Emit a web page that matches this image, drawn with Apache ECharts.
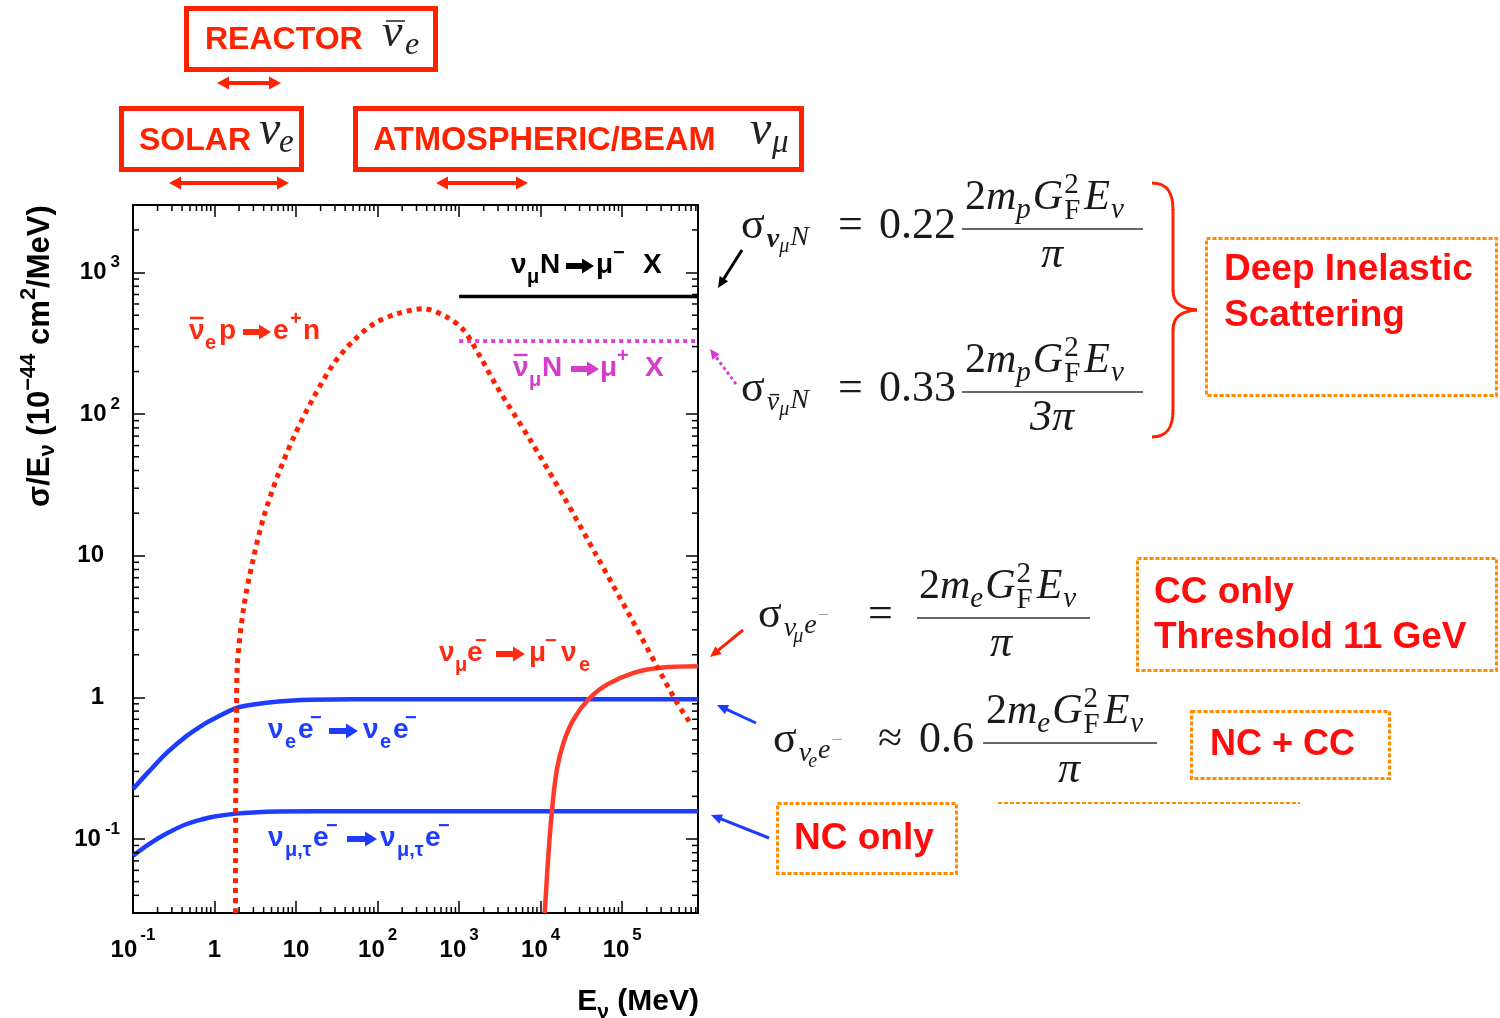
<!DOCTYPE html>
<html><head><meta charset="utf-8">
<script src="https://cdn.jsdelivr.net/npm/echarts@6/dist/echarts.min.js"></script>
<style>html,body{margin:0;padding:0;background:#fff}#c{width:1500px;height:1018px}</style>
</head><body><div id="c"></div>
<script>
// ---------------- data ----------------
const E_MIN = 0.1, E_MAX = 850000;      // MeV
const S_MIN = 0.03, S_MAX = 3000;       // 1e-44 cm^2/MeV
const xTickDecades = [-1, 0, 1, 2, 3, 4, 5];
const yTickDecades = [-1, 0, 1, 2, 3];
const minorMult = [2, 3, 4, 5, 6, 7, 8, 9];

// nu_e e- -> nu_e e-
const nueE = [[0.1,0.225],[0.157,0.30],[0.265,0.41],[0.448,0.53],[0.754,0.65],[1.0,0.71],[1.83,0.84],[3.0,0.89],[6.1,0.935],[15,0.96],[49,0.97],[300,0.97],[850000,0.97]];
// nu_mu,tau e- -> nu_mu,tau e-
const numutauE = [[0.1,0.076],[0.157,0.092],[0.265,0.110],[0.448,0.127],[0.754,0.139],[1.0,0.144],[1.83,0.151],[3.0,0.154],[6.1,0.156],[49,0.157],[300,0.157],[850000,0.157]];
// anti-nu_e p -> e+ n
const antinueP = [[1.806,0.03],[1.82,0.2],[1.86,0.8],[1.90,1.66],[2.29,4.4],[3.03,9.9],[4.02,18.9],[5.87,36],[9.37,69],[16.5,132],[29,228],[51,332],[90,435],[173,512],[367,555],[711,484],[1140,391],[1820,253],[2910,156],[7460,65.6],[19100,26.2],[49000,9.9],[125000,3.74],[266000,1.66],[468000,0.92],[681000,0.66]];
// nu_mu e- -> mu- nu_e
const numuE = [[11200,0.03],[12500,0.081],[13700,0.154],[15800,0.31],[19100,0.48],[25300,0.70],[38600,0.97],[64900,1.23],[138000,1.49],[292000,1.62],[850000,1.66]];
// DIS
const numuN = [[1000,678],[850000,678]];
const antinumuN = [[1000,328],[850000,328]];

// minor tick positions
const xMinor = [];
for (const k of xTickDecades) for (const m of minorMult) { const v = m * Math.pow(10, k); if (v < E_MAX) xMinor.push([v, S_MIN]); }
const yMinor = [];
for (const k of [-2, -1, 0, 1, 2, 3]) for (const m of minorMult) { const v = m * Math.pow(10, k); if (v > S_MIN && v < S_MAX) yMinor.push([E_MIN, v]); }

// ---------------- styles ----------------
const SANS = '"Liberation Sans", Arial, sans-serif';
const SERIF = '"Liberation Serif", "Times New Roman", serif';
const BLUE = '#1e3cff', RED = '#ff2a10', MAG = '#d63ccc', ORANGE = '#ff8c00', BOXRED = '#ff2200', TRED = '#ff0d0d', FC = '#1a1a1a';

// ---------------- graphic helpers ----------------
const G = [];
const mctx = document.createElement('canvas').getContext('2d');
function mkfont(o) { return (o.style || 'normal') + ' ' + (o.weight || 'normal') + ' ' + o.size + 'px ' + (o.fam || SANS); }
function txt(x, base, s, o) {
  const f = mkfont(o);
  G.push({type:'text', x: x, y: base - 0.34 * o.size, z: 30,
    style:{text: s, font: f, fill: o.color || '#000', align: o.align || 'left', verticalAlign: 'middle'}});
  mctx.font = f; return mctx.measureText(s).width;
}
function flow(x, base, toks, defs) {
  let cx = x, stackW = 0;
  toks.forEach(tk => {
    const o = Object.assign({}, defs, tk);
    const w = txt(cx, base + (o.dy || 0), o.t, o);
    if (o.bar) G.push({type:'line', z:30, shape:{x1:cx + 3, y1:base + (o.dy||0) - o.size*0.62, x2:cx + w, y2:base + (o.dy||0) - o.size*0.62}, style:{stroke:o.color||'#000', lineWidth:1.5}});
    if (o.stack) { stackW = w; }
    else { cx += Math.max(w, stackW) + (o.gap || 0); stackW = 0; }
  });
  return cx - x;
}
function flowRot(X0, Y0, toks, defs) {
  let s = 0;
  toks.forEach(tk => {
    const o = Object.assign({}, defs, tk);
    const f = mkfont(o);
    mctx.font = f; const w = mctx.measureText(o.t).width;
    G.push({type:'text', x: X0 + (o.dy || 0) - 0.34 * o.size, y: Y0 - s, rotation: Math.PI / 2, z: 30,
      style:{text: o.t, font: f, fill: o.color || '#000', align: 'left', verticalAlign: 'middle'}});
    s += w + (o.gap || 0);
  });
  return s;
}
function arrow(x1, y1, x2, y2, color, w, hl, hw, dash) {
  const dx = x2 - x1, dy = y2 - y1, L = Math.hypot(dx, dy), ux = dx / L, uy = dy / L, px = -uy, py = ux;
  const bx = x2 - ux * hl, by = y2 - uy * hl;
  G.push({type:'line', z:30, shape:{x1:x1, y1:y1, x2:bx + ux, y2:by + uy}, style:{stroke:color, lineWidth:w, lineDash: dash || null}});
  G.push({type:'polygon', z:30, shape:{points:[[x2, y2], [bx + px * hw / 2, by + py * hw / 2], [bx - px * hw / 2, by - py * hw / 2]]}, style:{fill:color}});
}
function dbl(x1, x2, y, color) {
  const hl = 12, hw = 13;
  G.push({type:'line', z:30, shape:{x1:x1 + hl - 1, y1:y, x2:x2 - hl + 1, y2:y}, style:{stroke:color, lineWidth:4}});
  G.push({type:'polygon', z:30, shape:{points:[[x1, y], [x1 + hl, y - hw / 2], [x1 + hl, y + hw / 2]]}, style:{fill:color}});
  G.push({type:'polygon', z:30, shape:{points:[[x2, y], [x2 - hl, y - hw / 2], [x2 - hl, y + hw / 2]]}, style:{fill:color}});
}
function rect(x, y, w, h, color, lw, dash) {
  G.push({type:'rect', z:25, shape:{x:x, y:y, width:w, height:h}, style:{fill:'none', stroke:color, lineWidth:lw, lineDash: dash || null}});
}
function hline(x1, x2, y, color, lw, dash) {
  G.push({type:'line', z:25, shape:{x1:x1, y1:y, x2:x2, y2:y}, style:{stroke:color, lineWidth:lw, lineDash: dash || null}});
}
// labels inside the plot
function plab(color, base, toks) {
  toks.forEach(tk => {
    if (tk.k === 'a') { arrow(tk.x, base - 9, tk.x2, base - 9, color, 6, 12, 15); return; }
    const sub = tk.k === 's', sup = tk.k === 'u';
    const size = (sub || sup) ? 20 : 28;
    const dy = sub ? 9 : sup ? -15 : 0;
    const w = txt(tk.x, base + dy, tk.t, {fam:SANS, weight:'bold', size:size, color:color});
    if (tk.bar) G.push({type:'line', z:30, shape:{x1:tk.x + 1, y1:base - 23, x2:tk.x + w - 1, y2:base - 23}, style:{stroke:color, lineWidth:2.5}});
  });
}
// numerator 2 m_x G_F^2 E_nu
function numer(L, base, sub) {
  const D = {fam:SERIF, color:FC};
  flow(L, base, [
    {t:'2', size:42, gap:0},
    {t:'m', size:42, style:'italic', gap:0},
    {t:sub, size:29, style:'italic', dy:8, gap:2},
    {t:'G', size:42, style:'italic', gap:1},
    {t:'2', size:29, dy:-17, stack:true},
    {t:'F', size:29, dy:9, gap:4},
    {t:'E', size:42, style:'italic', gap:1},
    {t:'ν', size:29, style:'italic', dy:8}
  ], D);
}

// ---------- top boxes ----------
rect(186.5, 8.5, 249, 61, BOXRED, 5);
txt(205, 51, 'REACTOR', {size:32, weight:'bold', color:BOXRED, fam:SANS});
txt(382, 50, 'ν', {size:46, style:'italic', fam:SERIF, color:'#222'});
G.push({type:'line', z:30, shape:{x1:386, y1:21, x2:405, y2:21}, style:{stroke:'#555', lineWidth:2}});
txt(405, 56, 'e', {size:32, style:'italic', fam:SERIF, color:'#222'});
dbl(217, 281, 83, BOXRED);

rect(121.5, 108.5, 180, 61, BOXRED, 5);
txt(139, 152, 'SOLAR', {size:32, weight:'bold', color:BOXRED, fam:SANS});
txt(259, 148, 'ν', {size:48, style:'italic', fam:SERIF, color:'#222'});
txt(279, 155, 'e', {size:33, style:'italic', fam:SERIF, color:'#222'});
dbl(169, 289, 183, BOXRED);

rect(355.5, 108.5, 446, 61, BOXRED, 5);
txt(373, 152, 'ATMOSPHERIC/BEAM', {size:32.5, weight:'bold', color:BOXRED, fam:SANS});
txt(750, 148, 'ν', {size:48, style:'italic', fam:SERIF, color:'#222'});
txt(772, 155, 'μ', {size:33, style:'italic', fam:SERIF, color:'#222'});
dbl(436, 528, 183, BOXRED);

// ---------- labels in the plot ----------
plab(RED, 341, [{x:189, t:'ν', bar:true}, {x:205, t:'e', k:'s'}, {x:219, t:'p'}, {k:'a', x:243, x2:271}, {x:273, t:'e'}, {x:290, t:'+', k:'u'}, {x:303, t:'n'}]);
plab('#000', 275, [{x:511, t:'ν'}, {x:527, t:'μ', k:'s'}, {x:540, t:'N'}, {k:'a', x:566, x2:594}, {x:596, t:'μ'}, {x:613, t:'−', k:'u'}, {x:643, t:'X'}]);
plab(MAG, 378, [{x:513, t:'ν', bar:true}, {x:529, t:'μ', k:'s'}, {x:542, t:'N'}, {k:'a', x:571, x2:599}, {x:600, t:'μ'}, {x:617, t:'+', k:'u'}, {x:645, t:'X'}]);
plab(RED, 663, [{x:439, t:'ν'}, {x:455, t:'μ', k:'s'}, {x:467, t:'e'}, {x:475, t:'−', k:'u'}, {k:'a', x:496, x2:525}, {x:529, t:'μ'}, {x:545, t:'−', k:'u'}, {x:561, t:'ν'}, {x:579, t:'e', k:'s'}]);
plab(BLUE, 740, [{x:268, t:'ν'}, {x:285, t:'e', k:'s'}, {x:298, t:'e'}, {x:310, t:'−', k:'u'}, {k:'a', x:329, x2:358}, {x:363, t:'ν'}, {x:380, t:'e', k:'s'}, {x:393, t:'e'}, {x:405, t:'−', k:'u'}]);
plab(BLUE, 848, [{x:268, t:'ν'}, {x:285, t:'μ,τ', k:'s'}, {x:313, t:'e'}, {x:326, t:'−', k:'u'}, {k:'a', x:347, x2:377}, {x:380, t:'ν'}, {x:397, t:'μ,τ', k:'s'}, {x:425, t:'e'}, {x:438, t:'−', k:'u'}]);

// ---------- formulas ----------
const FD = {fam:SERIF, color:FC};
// sigma_{nu_mu N}
flow(741, 241, [{t:'σ', size:44, gap:2}, {t:'ν', size:28, weight:'bold', style:'italic', dy:8, gap:0}, {t:'μ', size:20, style:'italic', dy:13, gap:1}, {t:'N', size:28, style:'italic', dy:6}], FD);
txt(838, 241, '=', Object.assign({size:44}, FD));
txt(879, 241, '0.22', Object.assign({size:44}, FD));
hline(962, 1143, 229, '#333', 1.6);
numer(965, 212, 'p');
txt(1052, 270, 'π', Object.assign({size:44, style:'italic', align:'center'}, FD));
arrow(742, 250, 718, 288, '#000', 3, 11, 10);

// sigma_{antinu_mu N}
flow(741, 404, [{t:'σ', size:44, gap:2}, {t:'ν', size:28, style:'italic', dy:8, gap:0, bar:true}, {t:'μ', size:20, style:'italic', dy:13, gap:1}, {t:'N', size:28, style:'italic', dy:6}], FD);
txt(838, 404, '=', Object.assign({size:44}, FD));
txt(879, 404, '0.33', Object.assign({size:44}, FD));
hline(962, 1143, 392, '#333', 1.6);
numer(965, 375, 'p');
txt(1052, 433, '3π', Object.assign({size:44, style:'italic', align:'center'}, FD));
arrow(736, 384, 710, 349, MAG, 3, 10, 9, [3, 3]);

// brace
const BR = {stroke:BOXRED, lineWidth:3, fill:'none'};
G.push({type:'bezierCurve', z:25, shape:{x1:1152, y1:183, cpx1:1167, cpy1:183, cpx2:1173, cpy2:192, x2:1173, y2:210}, style:BR});
G.push({type:'line', z:25, shape:{x1:1173, y1:209, x2:1173, y2:291}, style:BR});
G.push({type:'bezierCurve', z:25, shape:{x1:1173, y1:290, cpx1:1173, cpy1:303, cpx2:1181, cpy2:309, x2:1197, y2:310}, style:BR});
G.push({type:'bezierCurve', z:25, shape:{x1:1197, y1:310, cpx1:1181, cpy1:311, cpx2:1173, cpy2:317, x2:1173, y2:330}, style:BR});
G.push({type:'line', z:25, shape:{x1:1173, y1:329, x2:1173, y2:411}, style:BR});
G.push({type:'bezierCurve', z:25, shape:{x1:1173, y1:410, cpx1:1173, cpy1:428, cpx2:1167, cpy2:437, x2:1152, y2:437}, style:BR});

// DIS box
rect(1206.5, 238.5, 290, 157, ORANGE, 3, [4, 2]);
txt(1224, 282, 'Deep Inelastic', {size:37, weight:'bold', color:TRED, fam:SANS});
txt(1224, 328, 'Scattering', {size:37, weight:'bold', color:TRED, fam:SANS});

// sigma_{nu_mu e-}
flow(758, 630, [{t:'σ', size:44, gap:2}, {t:'ν', size:28, style:'italic', dy:8, gap:-3}, {t:'μ', size:20, style:'italic', dy:14, gap:1}, {t:'e', size:28, style:'italic', dy:5, gap:1}, {t:'−', size:20, dy:-7, color:'#999'}], FD);
txt(868, 630, '=', Object.assign({size:44}, FD));
hline(917, 1090, 618, '#333', 1.6);
numer(919, 601, 'e');
txt(1001, 659, 'π', Object.assign({size:44, style:'italic', align:'center'}, FD));
arrow(743, 630, 710, 657, BOXRED, 3, 11, 10);

rect(1137.5, 558.5, 359, 112, ORANGE, 3, [4, 2]);
txt(1154, 605, 'CC only', {size:37, weight:'bold', color:TRED, fam:SANS});
txt(1154, 650, 'Threshold 11 GeV', {size:37, weight:'bold', color:TRED, fam:SANS});

// sigma_{nu_e e-}
flow(773, 755, [{t:'σ', size:44, gap:2}, {t:'ν', size:28, style:'italic', dy:8, gap:-3}, {t:'e', size:20, style:'italic', dy:14, gap:1}, {t:'e', size:28, style:'italic', dy:5, gap:1}, {t:'−', size:20, dy:-7, color:'#999'}], FD);
txt(878, 755, '≈', Object.assign({size:44}, FD));
txt(919, 755, '0.6', Object.assign({size:44}, FD));
hline(983, 1157, 743, '#333', 1.6);
numer(986, 726, 'e');
txt(1069, 785, 'π', Object.assign({size:44, style:'italic', align:'center'}, FD));
arrow(756, 723, 717, 705, BLUE, 3, 11, 10);

rect(1191.5, 711.5, 198, 67, ORANGE, 3, [4, 2]);
txt(1210, 757, 'NC + CC', {size:36, weight:'bold', color:TRED, fam:SANS});
hline(998, 1300, 803, ORANGE, 2, [4, 2]);

rect(777.5, 803.5, 179, 70, ORANGE, 3, [4, 2]);
txt(794, 851, 'NC only', {size:37, weight:'bold', color:TRED, fam:SANS});
arrow(769, 838, 711, 815, BLUE, 3, 11, 10);

// ---------- axis titles ----------
flowRot(51, 507, [
  {t:'σ/E'}, {t:'ν', size:22, dy:4}, {t:' (10'}, {t:'−44', size:22, dy:-15}, {t:' cm'}, {t:'2', size:22, dy:-15}, {t:'/MeV)'}
], {size:31, weight:'bold', fam:SANS, color:'#000'});
(function () {
  const toks = [{t:'E'}, {t:'ν', size:21, dy:7}, {t:' (MeV)'}];
  const D = {size:30, weight:'bold', fam:SANS};
  let w = 0; toks.forEach(tk => { const o = Object.assign({}, D, tk); mctx.font = mkfont(o); w += mctx.measureText(o.t).width; });
  flow(699 - w, 1012, toks, D);
})();

// ---------------- axes ----------------
function decadeOf(v) { const l = Math.log10(v); const k = Math.round(l); return Math.abs(l - k) < 1e-6 ? k : null; }
function xFmt(v) {
  const k = decadeOf(v);
  if (k === null || xTickDecades.indexOf(k) < 0) return '';
  if (k === 0) return '{b|1}';
  if (k === 1) return '{b|10}';
  return '{b|10}{s|' + (k < 0 ? '-' : '') + Math.abs(k) + '}';
}
function yFmt(v) {
  const k = decadeOf(v);
  if (k === null || yTickDecades.indexOf(k) < 0) return '';
  if (k === 0) return '{p|1}';
  if (k === 1) return '{p|10}';
  return '{b|10}{s|' + (k < 0 ? '-' : '') + Math.abs(k) + '}';
}
const LBL = {fontFamily:SANS, fontWeight:'bold', color:'#000'};
const axisCommon = {
  type:'log', logBase:10,
  axisLine:{show:true, onZero:false, lineStyle:{color:'#000', width:2}},
  axisTick:{show:true, inside:true, length:12, lineStyle:{color:'#000', width:1.5}},
  minorTick:{show:false}, splitLine:{show:false}, minorSplitLine:{show:false}
};
const option = {
  animation:false,
  backgroundColor:'#ffffff',
  grid:{left:133, top:205, width:565, height:708, outerBoundsMode:'none'},
  xAxis:[
    Object.assign({}, axisCommon, {min:E_MIN, max:E_MAX, position:'bottom',
      axisLabel:{show:true, interval:0, margin:14, formatter:xFmt, hideOverlap:false,
        rich:{b:Object.assign({fontSize:24, lineHeight:46}, LBL), s:Object.assign({fontSize:17, lineHeight:16, verticalAlign:'top', padding:[0,0,0,3]}, LBL)}}}),
    Object.assign({}, axisCommon, {min:E_MIN, max:E_MAX, position:'top', axisLabel:{show:false}})
  ],
  yAxis:[
    Object.assign({}, axisCommon, {min:S_MIN, max:S_MAX, position:'left',
      axisLabel:{show:true, interval:0, margin:13, formatter:yFmt, hideOverlap:false,
        rich:{b:Object.assign({fontSize:24, lineHeight:37}, LBL), p:Object.assign({fontSize:24, lineHeight:37, padding:[0,16,0,0]}, LBL),
              s:Object.assign({fontSize:17, lineHeight:16, verticalAlign:'top', padding:[0,0,0,4]}, LBL)}}}),
    Object.assign({}, axisCommon, {min:S_MIN, max:S_MAX, position:'right', axisLabel:{show:false}})
  ],
  series:[
    {type:'line', data:nueE, smooth:0.35, showSymbol:false, lineStyle:{color:BLUE, width:4.5}, z:3},
    {type:'line', data:numutauE, smooth:0.35, showSymbol:false, lineStyle:{color:BLUE, width:4.5}, z:3},
    {type:'line', data:numuE, smooth:0.4, showSymbol:false, lineStyle:{color:'#ff3a2a', width:4.5}, z:4},
    {type:'line', data:antinueP, smooth:0.3, showSymbol:false, lineStyle:{color:'#ff2200', width:5, type:[5,5]}, z:5},
    {type:'line', data:numuN, showSymbol:false, lineStyle:{color:'#000', width:3.5}, z:4},
    {type:'line', data:antinumuN, showSymbol:false, lineStyle:{color:'#e040d8', width:4, type:[4,4]}, z:4},
    {type:'custom', data:xMinor, silent:true, z:6, renderItem:function (params, api) {
      const v = api.value(0), pb = api.coord([v, S_MIN]), pt = api.coord([v, S_MAX]);
      const st = {stroke:'#000', lineWidth:1.5};
      return {type:'group', children:[
        {type:'line', shape:{x1:pb[0], y1:pb[1], x2:pb[0], y2:pb[1] - 6}, style:st},
        {type:'line', shape:{x1:pt[0], y1:pt[1], x2:pt[0], y2:pt[1] + 6}, style:st}]};
    }},
    {type:'custom', data:yMinor, silent:true, z:6, renderItem:function (params, api) {
      const v = api.value(1), pl = api.coord([E_MIN, v]), pr = api.coord([E_MAX, v]);
      const st = {stroke:'#000', lineWidth:1.5};
      return {type:'group', children:[
        {type:'line', shape:{x1:pl[0], y1:pl[1], x2:pl[0] + 6, y2:pl[1]}, style:st},
        {type:'line', shape:{x1:pr[0], y1:pr[1], x2:pr[0] - 6, y2:pr[1]}, style:st}]};
    }}
  ],
  graphic: G
};
const chart = echarts.init(document.getElementById('c'), null, {renderer:'canvas'});
chart.setOption(option);
</script></body></html>
